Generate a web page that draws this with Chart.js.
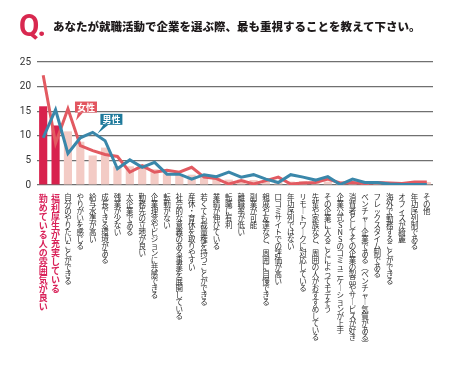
<!DOCTYPE html>
<html>
<head>
<meta charset="utf-8">
<script src="https://cdn.jsdelivr.net/npm/chart.js@4.4.1/dist/chart.umd.min.js"></script>
<style>
  html, body { margin: 0; padding: 0; background: #fff; }
  .wrap { position: relative; width: 453px; height: 375px; overflow: hidden; }
  .q { position: absolute; left: 19px; top: 6px; font: bold 32px Roboto, "Noto Sans", sans-serif; color: #d8284f; letter-spacing: -2px; transform: scaleX(0.92); transform-origin: left; }
  .title { position: absolute; left: 53px; top: 18px; font: 900 11.5px "Noto Sans CJK JP", sans-serif; color: #1e1a1b; white-space: nowrap; }
  canvas { position: absolute; left: 0; top: 0; }
</style>
</head>
<body>
<div class="wrap">
  <canvas id="chart" width="453" height="375"></canvas>
  <div class="q">Q.</div>
  <div class="title">あなたが就職活動で企業を選ぶ際、最も重視することを教えて下さい。</div>
</div>
<script>
// 項目（左から順）
const categories = [
  '勤めている人の雰囲気が良い',
  '福利厚生が充実している',
  '自分のやりたいことができる',
  'やりがいを感じる',
  '給与水準が高い',
  '成長できる環境がある',
  '残業が少ない',
  '大企業である',
  '勤務先の立地が良い',
  '企業理念やビジョンに共感できる',
  '転勤がない',
  '社会的な意義のある事業を展開している',
  '産休・育休を取りやすい',
  '若くても裁量権を持つことができる',
  '業績が伸びている',
  '転職に有利',
  '離職率が低い',
  '副業が可能',
  '親戚や友達など、周囲に自慢できる',
  '口コミサイトでの評価が高い',
  '年功序列ではない',
  'リモートワークに対応している',
  '先輩や家族など、周囲の人がおすすめしている',
  'その企業に入ることによってモテそう',
  '企業公式SNSのコミュニケーションが上手',
  '消費者としてその企業の製品やサービスが好き',
  'ベンチャー企業である（ベンチャー気質がある）',
  'フレックスタイム制である',
  '海外で勤務することができる',
  'オフィスが綺麗',
  '年功序列制である',
  'その他'
];

// 全体（棒）
const totalValues = [16.0, 12.1, 10.9, 8.8, 6.0, 7.6, 3.8, 3.8, 4.2, 3.2, 2.4, 2.1, 2.1, 1.7, 1.5, 1.1,
  1.1, 1.0, 1.0, 0.8, 0.7, 0.8, 0.8, 0.7, 0.6, 0.6, 0.5, 0.5, 0.5, 0.4, 0.4, 0.6];
// 女性（赤線）
const femaleValues = [22.3, 8.5, 15.5, 8.0, 7.0, 6.2, 5.8, 2.6, 3.9, 2.6, 3.0, 2.6, 3.6, 1.6, 1.3, 0.2,
  0.9, 0.2, 0.9, 1.6, 0.2, 0.4, 0.5, 1.2, 0.4, 0.5, 0.3, 0.5, 0.4, 0.3, 0.6, 0.6];
// 男性（青線）
const maleValues = [9.6, 15.3, 6.4, 9.6, 10.7, 9.0, 3.3, 5.1, 3.6, 4.6, 2.2, 2.2, 1.2, 2.1, 1.7, 2.6,
  1.6, 2.1, 1.2, 0.5, 2.1, 1.6, 1.0, 1.7, 0.1, 1.2, 0.5, 0.5, 0.2, 0.1, 0.1, 0.1];
const yTicks = [0, 5, 10, 15, 20, 25];
const highlightCount = 2; // 上位2項目は赤

const RED = '#d8224d';
const PINK = '#f3cbc5';
const FEMALE = '#e25a61';
const MALE = '#3a87aa';

// 縦書き用に1文字ずつ分ける
const vertMap = {'ー': '︱', '、': '︑', '（': '︵', '）': '︶', '。': '︒'};
const toVertical = (s) => Array.from(s).map(c => vertMap[c] || c);

// 吹き出し（女性・男性）
const calloutPlugin = {
  id: 'callouts',
  afterDatasetsDraw(chart) {
    const {ctx, scales: {x, y}} = chart;
    const items = [
      {text: '女性', color: '#e2555f', idx: 2.65, val: 13.1, dx: -1, dy: -8},
      {text: '男性', color: '#1f7a9b', idx: 4.38, val: 10.4, dx: 3, dy: -9}
    ];
    ctx.save();
    items.forEach(it => {
      const tx = x.getPixelForValue(it.idx);
      const ty = y.getPixelForValue(it.val);
      const w = 22, h = 11;
      const bx = tx + it.dx, by = ty + it.dy - h;
      ctx.fillStyle = it.color;
      ctx.beginPath();
      ctx.moveTo(tx, ty);
      ctx.lineTo(bx + 3, by + h);
      ctx.lineTo(bx + 8, by + h);
      ctx.closePath();
      ctx.fill();
      ctx.fillRect(bx, by, w, h);
      ctx.fillStyle = '#fff';
      ctx.font = 'bold 9px "Noto Sans CJK JP"';
      ctx.textAlign = 'center';
      ctx.textBaseline = 'middle';
      ctx.fillText(it.text, bx + w / 2, by + h / 2 + 0.5);
    });
    ctx.restore();
  }
};

new Chart(document.getElementById('chart'), {
  type: 'bar',
  data: {
    labels: categories,
    datasets: [
      {
        type: 'line',
        label: '男性',
        data: maleValues,
        borderColor: MALE,
        borderWidth: 3,
        pointRadius: 0,
        tension: 0,
        order: 0
      },
      {
        type: 'line',
        label: '女性',
        data: femaleValues,
        borderColor: FEMALE,
        borderWidth: 3,
        pointRadius: 0,
        tension: 0,
        order: 1
      },
      {
        label: '全体',
        data: totalValues,
        backgroundColor: totalValues.map((v, i) => i < highlightCount ? RED : PINK),
        categoryPercentage: 1,
        barPercentage: 0.66,
        order: 2
      }
    ]
  },
  options: {
    animation: false,
    responsive: false,
    layout: {padding: {top: 62, right: 20, left: 0, bottom: 0}},
    plugins: {legend: {display: false}, tooltip: {enabled: false}},
    scales: {
      x: {
        grid: {display: false, drawTicks: false},
        border: {display: false},
        afterFit: (scale) => { scale.height = 190; },
        ticks: {
          autoSkip: false,
          maxRotation: 0,
          minRotation: 0,
          padding: 9,
          callback: (value, index) => toVertical(categories[index]),
          color: (c) => c.index < highlightCount ? '#d9235a' : '#2b2b2b',
          font: (c) => c.index < highlightCount
            ? {family: '"Noto Sans CJK JP"', size: 9, weight: 'bold', lineHeight: '9px'}
            : {family: '"Noto Sans CJK JP"', size: 7.5, weight: 'normal', lineHeight: '7px'}
        }
      },
      y: {
        min: 0,
        max: 25,
        afterFit: (scale) => { scale.width = 37; },
        afterBuildTicks: (scale) => { scale.ticks = yTicks.map(v => ({value: v})); },
        border: {display: false},
        grid: {color: '#707070', lineWidth: 1.2, drawTicks: false},
        ticks: {
          padding: 6,
          color: '#333',
          font: {family: 'Roboto, "Noto Sans", sans-serif', size: 10}
        }
      }
    }
  },
  plugins: [calloutPlugin]
});
</script>
</body>
</html>
